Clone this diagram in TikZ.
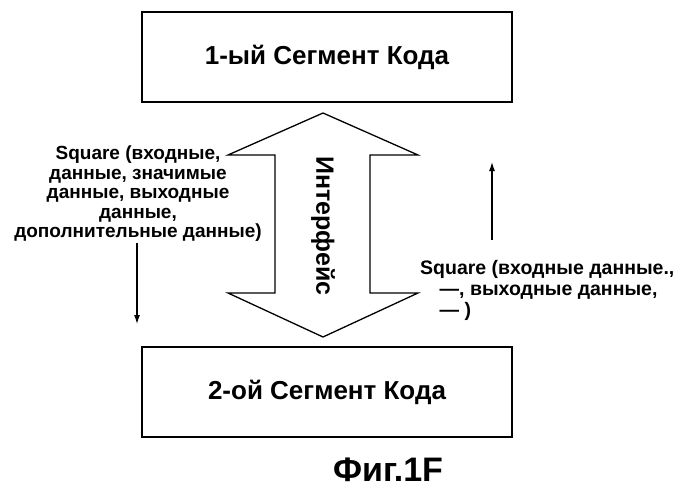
\documentclass[tikz,border=0pt]{standalone}
\usepackage{fontspec}
\setmainfont{Liberation Sans}
\usetikzlibrary{arrows.meta}
\begin{document}
\begin{tikzpicture}[x=1pt,y=-1pt,
  seg/.style={draw,line width=1.4pt,minimum width=370pt,minimum height=90pt,font=\bfseries\fontsize{26}{30}\selectfont},
  lbl/.style={font=\bfseries\fontsize{19}{19.5}\selectfont,align=center,inner sep=0pt},
  arr/.style={line width=1.2pt,-{Latex[length=9pt,width=6pt]}}]
\useasboundingbox (0,0) rectangle (700,497);
\node[seg] (top) at (327,57) {1-ый Сегмент Кода};
\node[seg] (bot) at (327,392) {2-ой Сегмент Кода};
\draw[line width=1.3pt,line join=miter] (323,113) -- (418,155) -- (370,155) -- (370,293) -- (418,293) -- (323,337) -- (228,293) -- (275,293) -- (275,155) -- (228,155) -- cycle;
\node[rotate=-90,font=\bfseries\fontsize{25}{28}\selectfont] (ifc) at (323,226) {Интерфейс};
\node[lbl] (lt) at (138,194) {Square (входные,\\данные, значимые\\данные, выходные\\данные,\\дополнительные данные)};
\coordinate (la) at (137,243);
\coordinate (lb) at (137,324);
\draw[arr] (la) -- (lb);
\node[lbl,align=left,anchor=west,font=\bfseries\fontsize{19.5}{21}\selectfont] (rt) at (420,290) {Square (входные данные.,\\\quad ---, выходные данные,\\\quad --- )};
\coordinate (ra) at (492,240);
\coordinate (rb) at (492,162);
\draw[arr] (ra) -- (rb);
\node[font=\bfseries\fontsize{34}{38}\selectfont] (cap) at (388,470) {Фиг.1F};
\end{tikzpicture}
\end{document}
